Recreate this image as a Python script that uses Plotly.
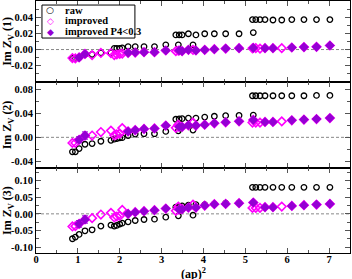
import plotly.graph_objects as go
from plotly.subplots import make_subplots

# (ap)^2 values
x_vals = [0.87, 0.94, 1.03, 1.17, 1.34, 1.55, 1.79, 1.87, 1.93, 2.00, 2.06, 2.20, 2.37, 2.58, 2.83, 3.10,
          3.34, 3.40, 3.42, 3.49, 3.64, 3.75, 3.82, 4.03, 4.26, 4.53, 4.85,
          5.17, 5.19, 5.25, 5.35, 5.47, 5.66, 5.87, 6.11, 6.40, 6.70, 7.02]

# panel (1)
raw_1 = [-0.011, -0.011, -0.010, -0.006, -0.006, -0.004, -0.004, 0.0015, 0.0015, 0.0015, 0.002, 0.0037, 0.0037,
         0.0037, 0.0037, 0.0058, 0.018, 0.0058, 0.018, 0.018, 0.0195, 0.0058, 0.018, 0.0195, 0.0195, 0.0195,
         0.0195, 0.037, 0.021, 0.037, 0.037, 0.037, 0.0365, 0.0365, 0.037, 0.037, 0.037, 0.037]
imp_1 = [-0.0105, -0.011, -0.0098, -0.0055, -0.0068, -0.0042, -0.0045, -0.0068, -0.006, -0.0054, -0.005, -0.0041,
         -0.0037, -0.0033, -0.0033, -0.0012, -0.002, -0.0015, -0.0012, -0.002, -0.0004, -0.0005, -0.0012, -0.0004,
         0.0004, 0.0012, 0.0017, 0.0015, 0.002, 0.0017, 0.0012, 0.0017, 0.0017, 0.0017, 0.0025, 0.003, 0.0033, 0.005]
err_1 = [0, 0, 0.002, 0.002] + [0] * 34

# panel (2)
raw_2 = [-0.024, -0.024, -0.0186, -0.0115, -0.0104, -0.0065, -0.005, -0.003, -0.002, -0.001, -0.0005, 0.003, 0.0054,
         0.006, 0.006, 0.0098, 0.030, 0.0108, 0.0305, 0.031, 0.032, 0.012, 0.032, 0.0337, 0.035, 0.036, 0.0364,
         0.069, 0.037, 0.069, 0.069, 0.069, 0.069, 0.069, 0.069, 0.069, 0.0695, 0.0695]
imp_2 = [-0.0093, -0.0093, -0.004, 0.003, 0.003, 0.0088, 0.0112, 0.0033, 0.0048, 0.0062, 0.0153, 0.0098, 0.012,
         0.014, 0.0147, 0.0196, 0.0157, 0.021, 0.0175, 0.0173, 0.020, 0.0245, 0.0196, 0.021, 0.0233, 0.025, 0.0266,
         0.0245, 0.0288, 0.0245, 0.0245, 0.0255, 0.0255, 0.0266, 0.0283, 0.0294, 0.0304, 0.032]
err_2 = [0, 0, 0.005, 0.006] + [0] * 34

# panel (3)
raw_3 = [-0.075, -0.070, -0.062, -0.051, -0.048, -0.037, -0.034, -0.037, -0.035, -0.031, -0.028, -0.024, -0.020,
         -0.017, -0.016, -0.010, 0.020, -0.006, 0.022, 0.024, 0.026, -0.004, 0.028, 0.028, 0.030, 0.032, 0.033,
         0.080, 0.034, 0.080, 0.080, 0.080, 0.080, 0.080, 0.080, 0.080, 0.080, 0.080]
imp_3 = [-0.038, -0.037, -0.030, -0.017, -0.013, -0.002, 0.003, -0.011, -0.008, -0.006, 0.012, 0.000, 0.005, 0.008,
         0.011, 0.016, 0.009, 0.022, 0.013, 0.014, 0.019, 0.028, 0.019, 0.025, 0.029, 0.030, 0.032, 0.018, 0.034,
         0.018, 0.018, 0.020, 0.020, 0.022, 0.024, 0.026, 0.028, 0.030]
err_3 = [0, 0, 0.010, 0.011] + [0] * 34

# which points satisfy P4<0.3
p4_ok = [False, False, True, True, False, False, False, False, False, False, False, True, True, True, True, True,
         False, False, True, True, True, False, True, True, True, True, True,
         False, True, False, False, True, True, False, True, True, True, True]

series_names = ["raw", "improved", "improved P4&lt;0.3"]
panel_titles = ["Im Z<sub>V</sub> (1)", "Im Z<sub>V</sub> (2)", "Im Z<sub>V</sub> (3)"]
y_ranges = [[-0.04, 0.06], [-0.051, 0.092], [-0.118, 0.138]]
y_ticks = [[-0.02, 0.0, 0.02, 0.04], [-0.04, 0.0, 0.04, 0.08], [-0.10, -0.05, 0.0, 0.05, 0.10]]
y_minor = [0.01, 0.02, 0.025]
x_ticks = [0, 1, 2, 3, 4, 5, 6, 7]

FONT = "Liberation Serif"
PURPLE = "#9400D3"
MAGENTA = "#FF00FF"

fig = make_subplots(rows=3, cols=1, shared_xaxes=True, vertical_spacing=0)

panels = [(raw_1, imp_1, err_1), (raw_2, imp_2, err_2), (raw_3, imp_3, err_3)]
for i, (raw, imp, err) in enumerate(panels):
    row = i + 1
    fig.add_trace(go.Scatter(
        x=x_vals, y=raw, mode="markers", name="raw", showlegend=False,
        marker=dict(symbol="circle-open", size=5.5, color="black", line=dict(width=1.3, color="black")),
    ), row=row, col=1)
    fig.add_trace(go.Scatter(
        x=x_vals, y=imp, mode="markers", name="improved", showlegend=False,
        marker=dict(symbol="diamond-open", size=6.5, color=MAGENTA, line=dict(width=1.6, color=MAGENTA)),
    ), row=row, col=1)
    px = [xv for xv, ok in zip(x_vals, p4_ok) if ok]
    py = [yv for yv, ok in zip(imp, p4_ok) if ok]
    pe = [ev for ev, ok in zip(err, p4_ok) if ok]
    fig.add_trace(go.Scatter(
        x=px, y=py, mode="markers", name="improved P4<0.3", showlegend=False,
        marker=dict(symbol="diamond", size=7, color=PURPLE, line=dict(width=0.5, color=PURPLE)),
        error_y=dict(type="data", array=pe, visible=True, color=PURPLE, thickness=1, width=3),
    ), row=row, col=1)

doms = [[0.679, 1.0], [0.337, 0.679], [0.0, 0.337]]
axis_common = dict(showline=True, linecolor="black", linewidth=1, mirror="allticks",
                   ticks="inside", ticklen=5, tickcolor="#555", showgrid=False, zeroline=False,
                   automargin=False,
                   tickfont=dict(family=FONT, size=10.5, color="black", weight="bold"))

for i in range(3):
    yname = "yaxis" if i == 0 else f"yaxis{i + 1}"
    xname = "xaxis" if i == 0 else f"xaxis{i + 1}"
    fig.layout[yname].update(
        domain=doms[i], range=y_ranges[i], tickmode="array", tickvals=y_ticks[i],
        ticktext=[f"{v:.2f}" for v in y_ticks[i]],
        minor=dict(ticks="inside", dtick=y_minor[i], tick0=0, ticklen=3, tickcolor="#555"),
        title=dict(text=panel_titles[i], standoff=2,
                   font=dict(family=FONT, size=12, color="black", weight="bold")),
        **axis_common)
    fig.layout[xname].update(
        range=[0, 7.5], tickmode="array", tickvals=x_ticks, ticktext=[str(v) for v in x_ticks],
        showticklabels=(i == 2), ticklabelstandoff=-4,
        minor=dict(ticks="inside", dtick=0.5, tick0=0, ticklen=3, tickcolor="#555"),
        **axis_common)
    fig.add_shape(type="line", xref=f"{'x' if i == 0 else 'x' + str(i + 1)} domain",
                  yref=("y" if i == 0 else f"y{i + 1}"), x0=0, x1=1, y0=0, y1=0,
                  line=dict(color="#888", width=1, dash="3px,2px"), layer="below")

# x-axis title (placed as annotation to sit close to the tick labels)
fig.add_annotation(text="(ap)<sup>2</sup>", xref="paper", yref="paper", x=0.5, y=-0.043,
                   xanchor="center", yanchor="top", showarrow=False,
                   font=dict(family=FONT, size=12, color="black", weight="bold"))

# legend box drawn inside the top panel
fig.add_shape(type="rect", xref="paper", yref="paper", x0=0.019, x1=0.315, y0=0.853, y1=0.984,
              line=dict(color="black", width=1), fillcolor="white", layer="above")
leg_rows = [0.964, 0.921, 0.877]
leg_syms = ["○", "◇", "◆"]
leg_cols = ["black", MAGENTA, PURPLE]
for name, yy, sym, col in zip(series_names, leg_rows, leg_syms, leg_cols):
    fig.add_annotation(text=sym, xref="paper", yref="paper", x=0.045, y=yy, xanchor="center",
                       yanchor="middle", showarrow=False,
                       font=dict(family="DejaVu Sans", size=9, color=col, weight="bold"))
    fig.add_annotation(text=name, xref="paper", yref="paper", x=0.086, y=yy, xanchor="left",
                       yanchor="middle", showarrow=False,
                       font=dict(family=FONT, size=10.5, color="black", weight="bold"))

fig.update_layout(
    template="none",
    width=352, height=279,
    margin=dict(l=36, r=2, t=1, b=26),
    plot_bgcolor="white", paper_bgcolor="white",
    showlegend=False,
)

fig.write_html("out.html", config={"displayModeBar": False},
               post_script="document.body.style.margin='0px';")
